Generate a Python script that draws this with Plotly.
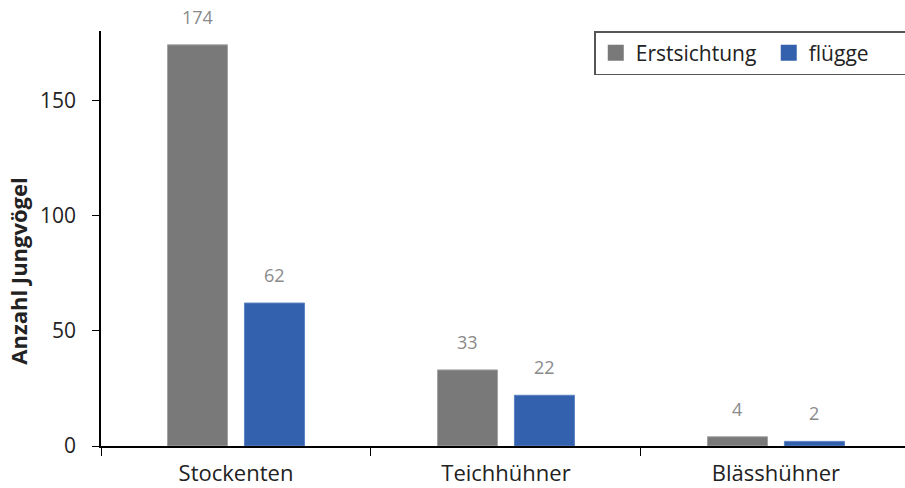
import plotly.graph_objects as go

categories = ["Stockenten", "Teichhühner", "Blässhühner"]
erstsichtung = [174, 33, 4]
fluegge = [62, 22, 2]
series_names = ["Erstsichtung", "flügge"]
y_ticks = [0, 50, 100, 150]

GRAY = "#787978"
BLUE = "#3461ad"
FONT = "Open Sans"

fig = go.Figure()
fig.add_trace(go.Bar(x=categories, y=erstsichtung, name=series_names[0], showlegend=False,
                     marker=dict(color=GRAY, line=dict(color="#a3a3a3", width=1))))
fig.add_trace(go.Bar(x=categories, y=fluegge, name=series_names[1], showlegend=False,
                     marker=dict(color=BLUE, line=dict(color="#5b82c4", width=1))))
# legend entries with larger square swatches
for name, col in ((series_names[0], GRAY), (series_names[1], BLUE)):
    fig.add_trace(go.Scatter(x=[None], y=[None], mode="markers", name=name,
                             marker=dict(symbol="square", size=16, color=col)))

# value labels above the bars
for vals, shift in ((erstsichtung, -38.5), (fluegge, 38.5)):
    for c, v in zip(categories, vals):
        fig.add_annotation(x=c, y=v, text=str(v), showarrow=False,
                           xshift=shift, yshift=28, yanchor="middle",
                           font=dict(family=FONT, size=18, color="#8a8a8a"))

# y axis title (placed slightly below centre as in the original)
fig.add_annotation(xref="paper", yref="paper", x=0, y=0.42, xshift=-83,
                   xanchor="center", yanchor="middle",
                   text="<b>Anzahl Jungvögel</b>", textangle=-90, showarrow=False,
                   font=dict(family=FONT, size=22, color="#222222"))

fig.update_layout(
    width=905, height=488,
    margin=dict(l=101, r=0, t=31, b=42, autoexpand=False),
    paper_bgcolor="white", plot_bgcolor="white",
    barmode="group", bargap=0.43, bargroupgap=0.22,
    font=dict(family=FONT, size=21, color="#222222"),
    showlegend=True,
    legend=dict(orientation="h", x=0.6135, xanchor="left", y=1, yanchor="top",
                bordercolor="#555555", borderwidth=1.5, bgcolor="white",
                font=dict(family=FONT, size=21, color="#222222"),
                entrywidth=128, tracegroupgap=0),
    xaxis=dict(range=[-0.5, 2.478], showline=True, linecolor="black", linewidth=1.5,
               ticks="outside", tickson="boundaries", ticklen=8, tickcolor="black",
               showgrid=False, zeroline=False, automargin=False, ticklabelstandoff=7,
               tickfont=dict(family=FONT, size=22, color="#222222")),
    yaxis=dict(range=[0, 180], tickvals=y_ticks, showline=True, linecolor="black",
               linewidth=1.5, ticks="outside", ticklen=7, tickcolor="black",
               showgrid=False, zeroline=False, ticklabelstandoff=12, automargin=False,
               tickfont=dict(family=FONT, size=21, color="#222222")),
)

fig.write_html("out.html")
